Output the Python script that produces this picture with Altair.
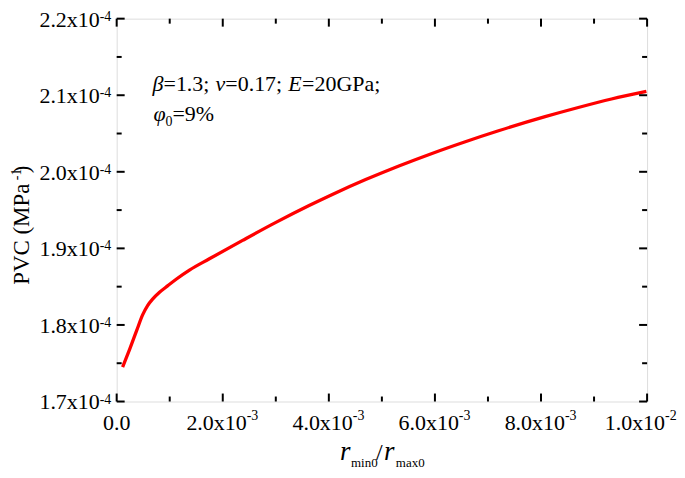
import altair as alt
import pandas as pd

# ---- data ----
x_vals = [0.113e-3, 0.244e-3, 0.376e-3, 0.489e-3, 0.583e-3, 0.677e-3, 0.808e-3, 0.959e-3, 1.128e-3,
          1.372e-3, 1.748e-3, 2.374e-3, 3.002e-3, 3.628e-3, 4.066e-3, 4.694e-3, 5.320e-3,
          5.945e-3, 6.573e-3, 7.199e-3, 8.077e-3, 8.703e-3, 9.329e-3, 9.987e-3]
y_vals = [1.7450e-4, 1.7681e-4, 1.7925e-4, 1.8131e-4, 1.8253e-4, 1.8337e-4, 1.8427e-4, 1.8510e-4, 1.8600e-4,
          1.8716e-4, 1.8864e-4, 1.9104e-4, 1.9339e-4, 1.9559e-4, 1.9704e-4, 1.9898e-4, 2.0076e-4,
          2.0240e-4, 2.0393e-4, 2.0536e-4, 2.0720e-4, 2.0840e-4, 2.0951e-4, 2.1050e-4]

x_major = [0.0, 2e-3, 4e-3, 6e-3, 8e-3, 1e-2]
x_minor = [1e-3, 3e-3, 5e-3, 7e-3, 9e-3]
x_base = ["0.0", "2.0x10", "4.0x10", "6.0x10", "8.0x10", "1.0x10"]
x_sup = ["", "-3", "-3", "-3", "-3", "-2"]

y_major = [1.7e-4, 1.8e-4, 1.9e-4, 2.0e-4, 2.1e-4, 2.2e-4]
y_minor = [1.75e-4, 1.85e-4, 1.95e-4, 2.05e-4, 2.15e-4]
y_base = ["1.7x10", "1.8x10", "1.9x10", "2.0x10", "2.1x10", "2.2x10"]
y_sup = ["-4", "-4", "-4", "-4", "-4", "-4"]

W, H = 532, 384
FONT = "Liberation Serif"
ox, oy = 117, 18  # plot origin in page pixels

xs = alt.Scale(domain=[0, 0.01], nice=False, zero=False)
ys = alt.Scale(domain=[1.7e-4, 2.2e-4], nice=False, zero=False)

df = pd.DataFrame({"x": x_vals, "y": y_vals})
xmaj = pd.DataFrame({"v": x_major})
xmin = pd.DataFrame({"v": x_minor})
ymaj = pd.DataFrame({"v": y_major})
ymin = pd.DataFrame({"v": y_minor})
xlab = pd.DataFrame({"v": x_major[1:-1], "b": x_base[1:-1], "s": x_sup[1:-1]})
xlabL = pd.DataFrame({"v": x_major[-1:], "b": x_base[-1:], "s": x_sup[-1:]})
xlab0 = pd.DataFrame({"v": x_major[:1], "b": x_base[:1]})
ylab = pd.DataFrame({"v": y_major, "b": y_base, "s": y_sup})

X = lambda: alt.X("v:Q", scale=xs, axis=None)
Y = lambda: alt.Y("v:Q", scale=ys, axis=None)

line = alt.Chart(df).mark_line(color="#ff0000", strokeWidth=3.3, interpolate="monotone").encode(
    x=alt.X("x:Q", scale=xs, axis=None), y=alt.Y("y:Q", scale=ys, axis=None))

tk = dict(color="black", strokeWidth=2)
layers = [line]
for d, L in ((xmaj, 8), (xmin, 5)):
    layers.append(alt.Chart(d).mark_rule(**tk).encode(x=X(), y=alt.value(H), y2=alt.value(H - L)))
    layers.append(alt.Chart(d).mark_rule(**tk).encode(x=X(), y=alt.value(0), y2=alt.value(L)))
for d, L in ((ymaj, 8), (ymin, 5)):
    layers.append(alt.Chart(d).mark_rule(**tk).encode(y=Y(), x=alt.value(0), x2=alt.value(L)))
    layers.append(alt.Chart(d).mark_rule(**tk).encode(y=Y(), x=alt.value(W), x2=alt.value(W - L)))

# tick labels
for d, off in ((xlab, 24), (xlabL, 18)):
    layers.append(alt.Chart(d).mark_text(font=FONT, fontSize=22, align="right", baseline="alphabetic", dx=off).encode(
        x=X(), y=alt.value(H + 29), text="b:N"))
    layers.append(alt.Chart(d).mark_text(font=FONT, fontSize=14, align="left", baseline="alphabetic", dx=off).encode(
        x=X(), y=alt.value(H + 19), text="s:N"))
layers.append(alt.Chart(xlab0).mark_text(font=FONT, fontSize=22, align="center", baseline="alphabetic").encode(
    x=X(), y=alt.value(H + 29), text="b:N"))
layers.append(alt.Chart(ylab).mark_text(font=FONT, fontSize=22, align="right", baseline="alphabetic", dy=8).encode(
    y=Y(), x=alt.value(-17), text="b:N"))
layers.append(alt.Chart(ylab).mark_text(font=FONT, fontSize=14, align="left", baseline="alphabetic", dy=2).encode(
    y=Y(), x=alt.value(-17), text="s:N"))


def txt(t, px, py, size=22, italic=False, align="left", angle=0):
    kw = dict(font=FONT, fontSize=size, align=align, baseline="alphabetic", color="black")
    if italic:
        kw["fontStyle"] = "italic"
    if angle:
        kw["angle"] = angle
    return alt.Chart(pd.DataFrame({"t": [t]})).mark_text(**kw).encode(
        x=alt.value(px - ox), y=alt.value(py - oy), text="t:N")


# annotation
layers += [
    txt("β", 153, 91, 22, True), txt("=1.3;", 164, 91, 22),
    txt("ν", 216, 91, 22, True), txt("=0.17;", 226, 91, 22),
    txt("E", 289, 91, 22, True), txt("=20GPa;", 303, 91, 22),
    txt("φ", 154, 121, 22, True), txt("0", 166, 126, 14), txt("=9%", 173, 121, 22),
]
# y title
layers += [
    txt("PVC (MPa", 29, 285, 23, angle=270),
    txt("-1", 21, 180, 14, angle=270),
    txt(")", 29, 173, 23, angle=270),
]
# x title
layers += [
    txt("r", 341, 461, 27, True), txt("min0", 352, 468, 13),
    txt("/", 377, 461, 24), txt("r", 385, 461, 27, True), txt("max0", 397, 468, 13),
]

chart = alt.layer(*layers).properties(
    width=W, height=H,
    padding={"left": 109, "top": 10, "right": 30, "bottom": 68},
    autosize=alt.AutoSizeParams(type="none"),
).configure_view(stroke="black", strokeWidth=2).configure(background="white")

chart.save("out.html", embed_options={"renderer": "svg", "actions": False})
